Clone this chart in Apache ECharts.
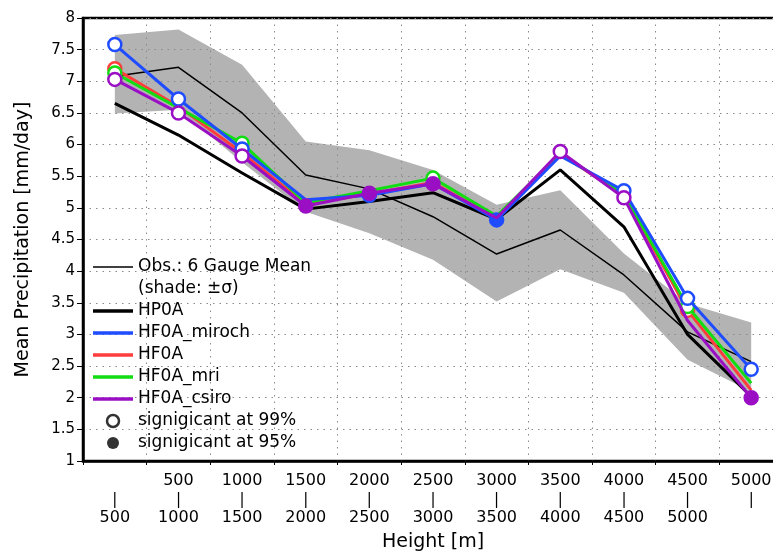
<!DOCTYPE html>
<html><head><meta charset="utf-8">
<script src="https://cdn.jsdelivr.net/npm/echarts@6/dist/echarts.min.js"></script>
<style>html,body{margin:0;padding:0;background:#fff}#c{width:773px;height:553px}</style>
</head><body><div id="c"></div>
<script>
const categories = ['0-500','500-1000','1000-1500','1500-2000','2000-2500','2500-3000','3000-3500','3500-4000','4000-4500','4500-5000','5000-'];
const tickTop    = ['', '500','1000','1500','2000','2500','3000','3500','4000','4500','5000'];
const tickBottom = ['500','1000','1500','2000','2500','3000','3500','4000','4500','5000',''];

const obsMean  = [7.08, 7.22, 6.50, 5.52, 5.30, 4.86, 4.27, 4.65, 3.94, 3.04, 2.57];
const obsUpper = [7.73, 7.82, 7.26, 6.05, 5.91, 5.60, 5.05, 5.28, 4.28, 3.49, 3.19];
const obsLower = [6.49, 6.55, 5.72, 4.94, 4.60, 4.18, 3.52, 4.03, 3.66, 2.60, 2.10];

const hp0a   = [6.65, 6.15, 5.55, 4.98, 5.10, 5.24, 4.82, 5.60, 4.70, 3.00, 2.02];
const miroch = [7.58, 6.72, 5.93, 5.13, 5.20, 5.38, 4.81, 5.82, 5.27, 3.57, 2.45];
const hf0a   = [7.20, 6.60, 5.87, 5.06, 5.22, 5.40, 4.83, 5.85, 5.20, 3.38, 2.12];
const mri    = [7.13, 6.58, 6.02, 5.08, 5.27, 5.47, 4.87, 5.85, 5.22, 3.44, 2.23];
const csiro  = [7.03, 6.50, 5.82, 5.03, 5.23, 5.38, 4.84, 5.89, 5.16, 3.22, 2.00];

// significance markers: 'o' = significant at 99% (open), 'f' = at 95% (filled), '' = none
const sigMiroch = ['o','o','o','','f','','f','','o','o','o'];
const sigHf0a   = ['o','','','','','','','','','o',''];
const sigMri    = ['o','','o','','','o','','','','o',''];
const sigCsiro  = ['o','o','o','f','f','f','','o','o','','f'];

const FONT = 'DejaVu Sans';
const cBlue = '#1f4cff', cRed = '#ff3d3d', cGreen = '#12dd12', cPurple = '#9b0fc4';

function modelSeries(name, vals, sig, color, z) {
  return {
    type: 'line', name: name, z: z, showAllSymbol: true, symbolSize: 13,
    animation: false, emphasis: {disabled: true},
    lineStyle: {color: color, width: 3},
    itemStyle: {color: color, borderColor: color, borderWidth: 2.5},
    data: vals.map((v, i) => ({
      value: v,
      symbol: sig[i] ? 'circle' : 'none',
      itemStyle: {color: sig[i] === 'o' ? '#ffffff' : color, borderColor: color, borderWidth: 2.5}
    }))
  };
}

const chart = echarts.init(document.getElementById('c'));
const lineIcon = w => 'path://M0,0L40,0L40,' + w + 'L0,' + w + 'Z';

chart.setOption({
  animation: false,
  backgroundColor: '#fff',
  grid: {left: 83, top: 18, bottom: 92, right: -10, outerBoundsMode: 'none', containLabel: false,
         show: true, borderColor: '#000', borderWidth: 2.5, backgroundColor: 'transparent'},
  xAxis: {
    type: 'category', data: categories, boundaryGap: true, z: 1.5,
    axisLine: {show: true, lineStyle: {color: '#000', width: 2.5}},
    axisTick: {show: true, length: 4, lineStyle: {color: '#000', width: 1}},
    splitLine: {show: true, lineStyle: {color: '#8a8a8a', width: 1, type: [1.5, 5]}},
    axisLabel: {
      interval: 0, margin: 11, color: '#000', fontFamily: FONT, fontSize: 16, hideOverlap: false,
      formatter: (v, i) => '{t|' + (tickTop[i] || ' ') + '}\n{b||}\n{t|' + (tickBottom[i] || ' ') + '}',
      rich: {
        t: {fontFamily: FONT, fontSize: 16, lineHeight: 18.5, color: '#000'},
        b: {fontFamily: FONT, fontSize: 15, lineHeight: 18.5, color: '#000'}
      }
    },
    name: 'Height [m]', nameLocation: 'middle', nameGap: 72,
    nameTextStyle: {fontFamily: FONT, fontSize: 19, color: '#000'}
  },
  yAxis: {
    type: 'value', min: 1, max: 8, interval: 0.5, z: 1.5,
    axisLine: {show: true, lineStyle: {color: '#000', width: 2.5}},
    axisTick: {show: true, length: 6, lineStyle: {color: '#000', width: 1}},
    splitLine: {show: true, lineStyle: {color: '#8a8a8a', width: 1, type: [1.5, 5]}},
    axisLabel: {margin: 8, color: '#000', fontFamily: FONT, fontSize: 15},
    name: 'Mean Precipitation [mm/day]', nameLocation: 'middle', nameGap: 50,
    nameTextStyle: {fontFamily: FONT, fontSize: 19, color: '#000'}
  },
  legend: {
    orient: 'vertical', left: 88, top: 251, itemGap: 0, itemWidth: 40, itemHeight: 12,
    selectedMode: false,
    textStyle: {fontFamily: FONT, fontSize: 17, color: '#000', lineHeight: 22},
    data: [
      {name: 'Obs.: 6 Gauge Mean', icon: lineIcon(1.5), itemStyle: {color: '#000', borderWidth: 0}},
      {name: '(shade: \u00b1\u03c3)', icon: 'rect', itemStyle: {color: 'rgba(0,0,0,0)', borderWidth: 0}},
      {name: 'HP0A', icon: lineIcon(3.5), itemStyle: {color: '#000', borderWidth: 0}},
      {name: 'HF0A_miroch', icon: lineIcon(3.5), itemStyle: {color: cBlue, borderWidth: 0}},
      {name: 'HF0A', icon: lineIcon(3.5), itemStyle: {color: cRed, borderWidth: 0}},
      {name: 'HF0A_mri', icon: lineIcon(3.5), itemStyle: {color: cGreen, borderWidth: 0}},
      {name: 'HF0A_csiro', icon: lineIcon(3.5), itemStyle: {color: cPurple, borderWidth: 0}},
      {name: 'signigicant at 99%', icon: 'circle', itemStyle: {color: '#fff', borderColor: '#000', borderWidth: 2.5}},
      {name: 'signigicant at 95%', icon: 'circle', itemStyle: {color: '#000', borderColor: '#000', borderWidth: 0}}
    ]
  },
  series: [
    {type: 'line', name: 'shade-base', stack: 'sd', z: 1, data: obsLower, symbol: 'none', silent: true,
     lineStyle: {opacity: 0}, emphasis: {disabled: true}},
    {type: 'line', name: '(shade: \u00b1\u03c3)', stack: 'sd', z: 1, symbol: 'none', silent: true,
     data: obsUpper.map((u, i) => +(u - obsLower[i]).toFixed(3)),
     lineStyle: {opacity: 0}, areaStyle: {color: '#b3b3b3', opacity: 1}, emphasis: {disabled: true}},
    {type: 'line', name: 'HP0A', z: 2, data: hp0a, symbol: 'none', lineStyle: {color: '#000', width: 3}, itemStyle: {color: '#000'}, emphasis: {disabled: true}},
    {type: 'line', name: 'Obs.: 6 Gauge Mean', z: 2, data: obsMean, symbol: 'none', lineStyle: {color: '#000', width: 1.5}, itemStyle: {color: '#000'}, emphasis: {disabled: true}},
    modelSeries('HF0A', hf0a, sigHf0a, cRed, 3),
    modelSeries('HF0A_mri', mri, sigMri, cGreen, 4),
    modelSeries('HF0A_miroch', miroch, sigMiroch, cBlue, 5),
    modelSeries('HF0A_csiro', csiro, sigCsiro, cPurple, 6),
    {type: 'scatter', name: 'signigicant at 99%', data: [], itemStyle: {color: '#fff', borderColor: '#000'}},
    {type: 'scatter', name: 'signigicant at 95%', data: [], itemStyle: {color: '#000'}}
  ]
});
</script></body></html>
